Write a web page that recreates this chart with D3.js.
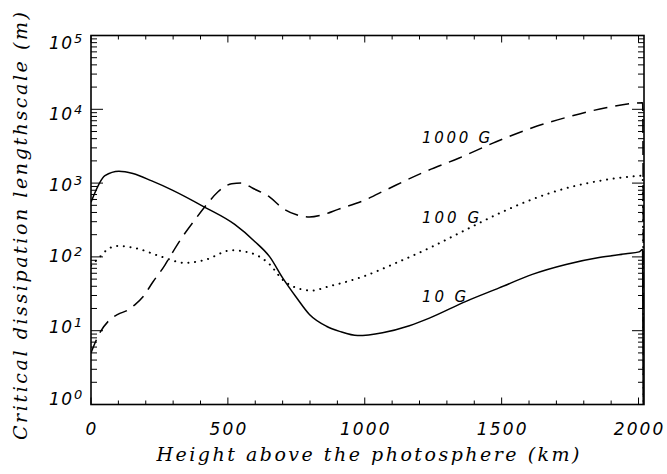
<!DOCTYPE html>
<html>
<head>
<meta charset="utf-8">
<script src="https://cdn.jsdelivr.net/npm/d3@7"></script>
<style>
  html, body { margin: 0; padding: 0; background: #fff; }
  svg { display: block; }
</style>
</head>
<body>
<svg id="chart" width="667" height="474"></svg>
<script>
// ---- Data ----
const heights10  = [0, 51, 102, 153, 222, 295, 416, 525, 598, 653, 700, 751, 798, 860, 908, 974, 1065, 1163, 1236, 1370, 1491, 1612, 1735, 1856, 1954, 2002, 2015, 2020];
const values10   = [550, 1260, 1450, 1350, 1070, 810, 470, 275, 162, 100, 52, 28, 16.6, 11.5, 9.8, 8.6, 9.4, 11.7, 14.8, 25, 38, 58, 79, 98, 110, 117, 126, 0.001];

const heights100 = [0, 30, 60, 98, 171, 259, 343, 416, 514, 587, 653, 700, 751, 806, 871, 993, 1115, 1247, 1370, 1491, 1612, 1735, 1856, 1976, 2015, 2020];
const values100  = [76, 98, 126, 141, 129, 100, 83, 91, 123, 112, 79, 49, 38, 35, 40, 54, 83, 138, 234, 389, 603, 851, 1070, 1230, 1260, 0.001];

const heights1000 = [0, 29, 69, 98, 135, 160, 190, 226, 270, 288, 332, 379, 427, 463, 514, 551, 591, 653, 700, 751, 798, 846, 900, 1000, 1079, 1211, 1345, 1480, 1612, 1746, 1881, 1976, 2015, 2020];
const values1000  = [5.0, 8.9, 14.1, 16.6, 19.1, 22.4, 28.8, 45.7, 77.6, 100, 182, 316, 537, 759, 977, 1000, 851, 646, 457, 372, 347, 372, 437, 589, 813, 1380, 2190, 3630, 5620, 7940, 10500, 12000, 12300, 0.001];

const seriesNames = ["10 G", "100 G", "1000 G"];
const xTickValues = [0, 500, 1000, 1500, 2000];
const yTickExponents = [0, 1, 2, 3, 4, 5];
const xTitle = "Height above the photosphere (km)";
const yTitle = "Critical dissipation lengthscale (m)";

// ---- Layout ----
const svg = d3.select("#chart");
const L = 91, R = 644, T = 35.5, B = 404.5;
const x = d3.scaleLinear().domain([0, 2020]).range([L, R]);
const y = d3.scaleLog().domain([1, 1e5]).range([B, T]);

const tickFont = "'DejaVu Sans', 'Liberation Sans', sans-serif";
const titleFont = "'DejaVu Serif', 'Liberation Serif', serif";

svg.append("defs").append("clipPath").attr("id", "clip")
  .append("rect").attr("x", L).attr("y", T).attr("width", R - L).attr("height", B - T);

// ---- Axes (ticks on all four sides, IDL style) ----
const xMinor = d3.range(0, 2001, 100);
const yMinor = [];
for (let e = 0; e < 5; e++) for (let m = 2; m <= 9; m++) yMinor.push(m * Math.pow(10, e));

const axes = svg.append("g").attr("stroke", "#000").attr("stroke-width", 1);
xMinor.forEach(v => {
  const major = v % 500 === 0;
  const len = major ? 7 : 4;
  axes.append("line").attr("x1", x(v)).attr("x2", x(v)).attr("y1", B).attr("y2", B - len);
  axes.append("line").attr("x1", x(v)).attr("x2", x(v)).attr("y1", T).attr("y2", T + len);
});
yTickExponents.forEach(e => {
  const v = Math.pow(10, e);
  axes.append("line").attr("x1", L).attr("x2", L + 12).attr("y1", y(v)).attr("y2", y(v));
  axes.append("line").attr("x1", R).attr("x2", R - 12).attr("y1", y(v)).attr("y2", y(v));
});
yMinor.forEach(v => {
  axes.append("line").attr("x1", L).attr("x2", L + 6).attr("y1", y(v)).attr("y2", y(v));
  axes.append("line").attr("x1", R).attr("x2", R - 6).attr("y1", y(v)).attr("y2", y(v));
});
svg.append("rect").attr("x", L).attr("y", T).attr("width", R - L).attr("height", B - T)
  .attr("fill", "none").attr("stroke", "#000").attr("stroke-width", 1.6);

// x tick labels
svg.append("g").selectAll("text").data(xTickValues).join("text")
  .attr("x", d => x(d)).attr("y", 435)
  .attr("text-anchor", "middle")
  .attr("font-family", tickFont).attr("font-style", "italic").attr("font-size", 17)
  .attr("textLength", d => String(d).length * 12.8 - 1.5).attr("lengthAdjust", "spacing")
  .text(d => d);

// y tick labels: 10^e
const yl = svg.append("g");
yTickExponents.forEach(e => {
  const ty = y(Math.pow(10, e)) + 13.5 * e / 5;
  yl.append("text").attr("x", 72).attr("y", ty).attr("text-anchor", "end")
    .attr("font-family", tickFont).attr("font-style", "italic").attr("font-size", 17)
    .attr("textLength", 23).attr("lengthAdjust", "spacing").text("10");
  yl.append("text").attr("x", 74).attr("y", ty - 6).attr("text-anchor", "start")
    .attr("font-family", tickFont).attr("font-style", "italic").attr("font-size", 13)
    .text(e);
});

// Axis titles
svg.append("text").attr("x", 368).attr("y", 461).attr("text-anchor", "middle")
  .attr("font-family", titleFont).attr("font-style", "italic").attr("font-size", 19)
  .attr("textLength", 423).attr("lengthAdjust", "spacing").text(xTitle);
svg.append("text").attr("transform", "translate(27,226) rotate(-90)").attr("text-anchor", "middle")
  .attr("font-family", titleFont).attr("font-style", "italic").attr("font-size", 19)
  .attr("textLength", 428).attr("lengthAdjust", "spacing").text(yTitle);

// ---- Curves ----
const line = d3.line().x(d => x(d[0])).y(d => y(d[1])).curve(d3.curveMonotoneX);
const series = [
  { h: heights10, v: values10, dash: null, cap: "butt" },
  { h: heights100, v: values100, dash: "0.1,6.6", cap: "round" },
  { h: heights1000, v: values1000, dash: "14,8", cap: "butt" }
];
const g = svg.append("g").attr("clip-path", "url(#clip)");
series.forEach(s => {
  const pts = s.h.map((h, i) => [h, s.v[i]]);
  g.append("path").attr("d", line(pts)).attr("fill", "none").attr("stroke", "#000")
    .attr("stroke-width", s.cap === "round" ? 2 : 1.5)
    .attr("stroke-linecap", s.cap)
    .attr("stroke-dasharray", s.dash);
});

// ---- Series labels ----
const labelPos = [[422, 302], [422, 223], [422, 143]];
seriesNames.forEach((n, i) => {
  svg.append("text").attr("x", labelPos[i][0]).attr("y", labelPos[i][1])
    .attr("font-family", tickFont).attr("font-style", "italic").attr("font-size", 15)
    .attr("textLength", [44, 57, 68][i]).attr("lengthAdjust", "spacing").text(n);
});
</script>
</body>
</html>
